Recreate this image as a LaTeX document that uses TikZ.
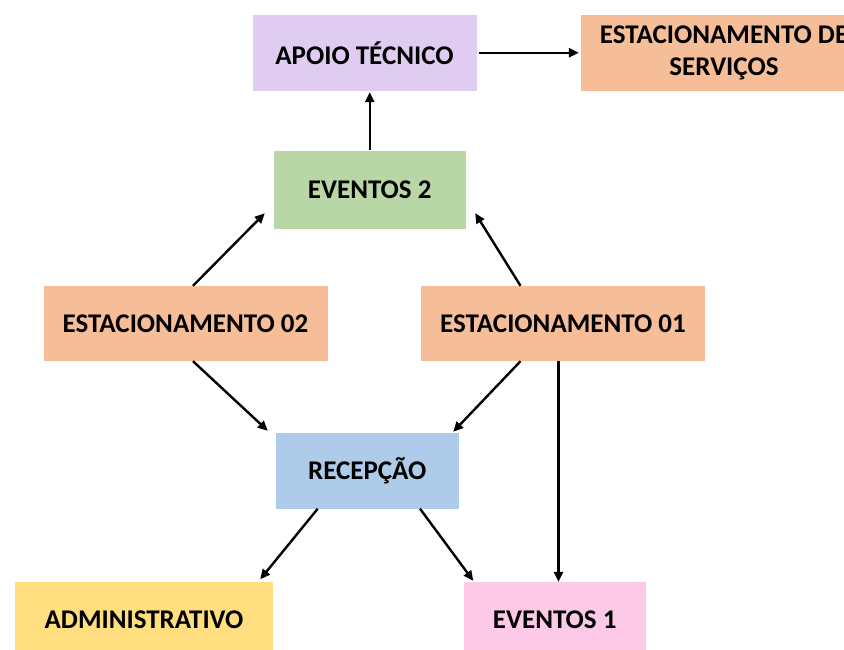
\documentclass[tikz,border=0pt]{standalone}
\usepackage{fontspec}
\setmainfont{Carlito}
\usetikzlibrary{arrows.meta}
\definecolor{cLav}{HTML}{E0CCF0}
\definecolor{cSal}{HTML}{F6BE98}
\definecolor{cGrn}{HTML}{B8D6A6}
\definecolor{cBlu}{HTML}{AECCEA}
\definecolor{cYel}{HTML}{FFDE80}
\definecolor{cPnk}{HTML}{FCCAE6}
\tikzset{
  boxnode/.style={rectangle, inner sep=0pt, align=center,
    font=\fontsize{27}{32}\selectfont\bfseries, text=black},
  arr/.style={draw=black, line width=2.4pt, -{Triangle[length=10pt,width=9pt]}}
}
\begin{document}
\begin{tikzpicture}[x=1pt,y=-1pt]
\useasboundingbox (0,0) rectangle (844,649);
\clip (0,0) rectangle (844,649);
\fill[white] (0,0) rectangle (844,649);
\node[boxnode, fill=cLav, minimum width=224pt, minimum height=76.5pt] (apoio) at (364.5,52.75) {APOIO TÉCNICO};
\node[boxnode, fill=cSal, minimum width=286pt, minimum height=76.5pt] (serv) at (724,52.75) {ESTACIONAMENTO DE\\SERVIÇOS};
\node[boxnode, fill=cGrn, minimum width=192.5pt, minimum height=77.5pt] (ev2) at (369.75,189.75) {EVENTOS 2};
\node[boxnode, fill=cSal, minimum width=284pt, minimum height=75pt] (est02) at (185.5,323.5) {ESTACIONAMENTO 02};
\node[boxnode, fill=cSal, minimum width=284pt, minimum height=75pt] (est01) at (563,323.5) {ESTACIONAMENTO 01};
\node[boxnode, fill=cBlu, minimum width=182.5pt, minimum height=75.5pt] (recep) at (367.25,470.75) {RECEPÇÃO};
\node[boxnode, fill=cYel, minimum width=258pt, minimum height=76pt] (admin) at (144,620) {ADMINISTRATIVO};
\node[boxnode, fill=cPnk, minimum width=182.5pt, minimum height=76pt] (ev1) at (554.75,620) {EVENTOS 1};
\coordinate (vx) at (558.5,0);
% connectors
\draw[arr] ([xshift=2pt]apoio.east) -- ([xshift=-2pt]serv.west);
\draw[arr] ([yshift=1pt]ev2.north) -- ([yshift=-1pt]ev2.north |- apoio.south);
\draw[arr] ([xshift=7.5pt]est02.north) -- ([shift={(-8.5pt,15.5pt)}]ev2.south west);
\draw[arr] ([xshift=-42.5pt]est01.north) -- ([shift={(9pt,15.5pt)}]ev2.south east);
\draw[arr] ([xshift=7.5pt]est02.south) -- ([shift={(-8pt,2pt)}]recep.north west);
\draw[arr] ([xshift=-42.5pt]est01.south) -- ([shift={(-5.5pt,1pt)}]recep.north east);
\draw[arr] ([xshift=-49.5pt]recep.south) -- ([shift={(-13pt,2.5pt)}]admin.north east);
\draw[arr] ([xshift=52.75pt]recep.south) -- ([shift={(10pt,1pt)}]ev1.north west);
\draw[arr] (vx |- est01.south) -- (vx |- ev1.north);
\end{tikzpicture}
\end{document}
